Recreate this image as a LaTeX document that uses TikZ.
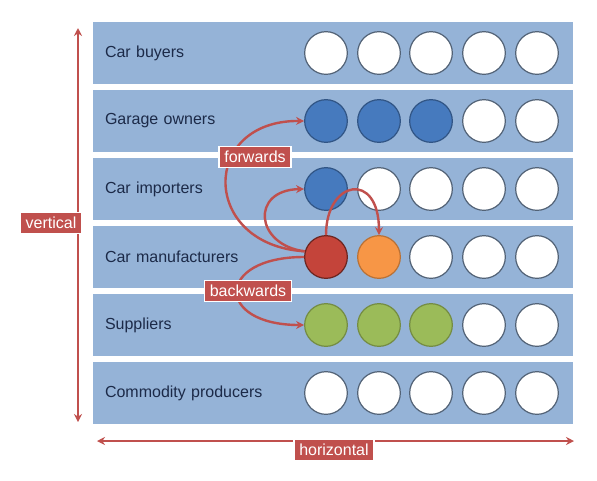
\documentclass[tikz,border=0pt]{standalone}
\usepackage{xcolor}
\usepackage{fontspec}
\setmainfont{Liberation Sans}
\usepackage{tikz}
\usetikzlibrary{arrows.meta}

\definecolor{bandblue}{RGB}{149,179,215}
\definecolor{inkblue}{RGB}{28,42,72}
\definecolor{flowred}{RGB}{192,80,77}
\definecolor{dotblue}{RGB}{70,122,190}
\definecolor{dotred}{RGB}{196,68,58}
\definecolor{dotorange}{RGB}{247,150,70}
\definecolor{dotgreen}{RGB}{155,187,89}

\begin{document}
\begin{tikzpicture}[x=0.75pt,y=-0.75pt,
  band/.style={rectangle,fill=bandblue,minimum height=46.5pt,text width=342pt,inner xsep=9pt,align=left,text=inkblue,font=\fontsize{12}{14}\selectfont},
  dot/.style={circle,minimum size=32pt,inner sep=0pt,line width=0.9pt},
  wdot/.style={dot,fill=white,draw=black!45!bandblue},
  bdot/.style={dot,fill=dotblue,draw=dotblue!70!black},
  rdot/.style={dot,fill=dotred,draw=dotred!55!black},
  odot/.style={dot,fill=dotorange,draw=dotorange!75!black},
  gdot/.style={dot,fill=dotgreen,draw=dotgreen!75!black},
  flow/.style={draw=flowred,line width=1.8pt,-{Stealth[length=6pt,width=6pt]}},
  tagbox/.style={rectangle,fill=flowred,draw=white,line width=1pt,text=white,inner xsep=4pt,inner ysep=3pt,text height=9pt,text depth=1pt,font=\fontsize{12}{14}\selectfont}]
\fill[white] (0,0) rectangle (597,480);
\useasboundingbox (0,0) rectangle (597,480);

\node at (333,53)  [band] (buyers)    {Car buyers};
\node at (333,121) [band] (garage)    {Garage owners};
\node at (333,189) [band] (importers) {Car importers};
\node at (333,257) [band] (makers)    {Car manufacturers};
\node at (333,325) [band] (suppliers) {Suppliers};
\node at (333,393) [band] (commodity) {Commodity producers};

\node at (326,53) [wdot] (bu1) {}; \node at (379,53) [wdot] (bu2) {}; \node at (431,53) [wdot] (bu3) {};
\node at (484,53) [wdot] (bu4) {}; \node at (537,53) [wdot] (bu5) {};

\node at (326,121) [bdot] (ga1) {}; \node at (379,121) [bdot] (ga2) {}; \node at (431,121) [bdot] (ga3) {};
\node at (484,121) [wdot] (ga4) {}; \node at (537,121) [wdot] (ga5) {};

\node at (326,189) [bdot] (im1) {}; \node at (379,189) [wdot] (im2) {}; \node at (431,189) [wdot] (im3) {};
\node at (484,189) [wdot] (im4) {}; \node at (537,189) [wdot] (im5) {};

\node at (326,257) [rdot] (ma1) {}; \node at (379,257) [odot] (ma2) {}; \node at (431,257) [wdot] (ma3) {};
\node at (484,257) [wdot] (ma4) {}; \node at (537,257) [wdot] (ma5) {};

\node at (326,325) [gdot] (su1) {}; \node at (379,325) [gdot] (su2) {}; \node at (431,325) [gdot] (su3) {};
\node at (484,325) [wdot] (su4) {}; \node at (537,325) [wdot] (su5) {};

\node at (326,393) [wdot] (co1) {}; \node at (379,393) [wdot] (co2) {}; \node at (431,393) [wdot] (co3) {};
\node at (484,393) [wdot] (co4) {}; \node at (537,393) [wdot] (co5) {};

% forwards and backwards links from the manufacturer
\draw [flow] (ma1.165) .. controls (200,245) and (200,120) .. (ga1.west);
\draw [flow] (ma1.165) .. controls (255,245) and (250,190) .. (im1.west);
\draw [flow] (ma1.north) .. controls (326,180) and (379,170) .. (ma2.north);
\draw [flow] (ma1.west) .. controls (215,257) and (215,325) .. (su1.west);

% axes
\coordinate (vtop) at (78,28);
\coordinate (vbot) at (78,422);
\coordinate (hleft) at (97,441);
\coordinate (hright) at (574,441);
\draw [flowred,line width=1.8pt,{Stealth[length=6pt,width=6pt]}-{Stealth[length=6pt,width=6pt]}] (vtop) -- (vbot);
\draw [flowred,line width=1.8pt,{Stealth[length=6pt,width=6pt]}-{Stealth[length=6pt,width=6pt]}] (hleft) -- (hright);

\node at (255,157) [tagbox] (fwd)  {forwards};
\node at (248,291) [tagbox] (bwd)  {backwards};
\node at (51,223)  [tagbox] (vert) {vertical};
\node at (334,450) [tagbox] (horz) {horizontal};
\end{tikzpicture}
\end{document}
